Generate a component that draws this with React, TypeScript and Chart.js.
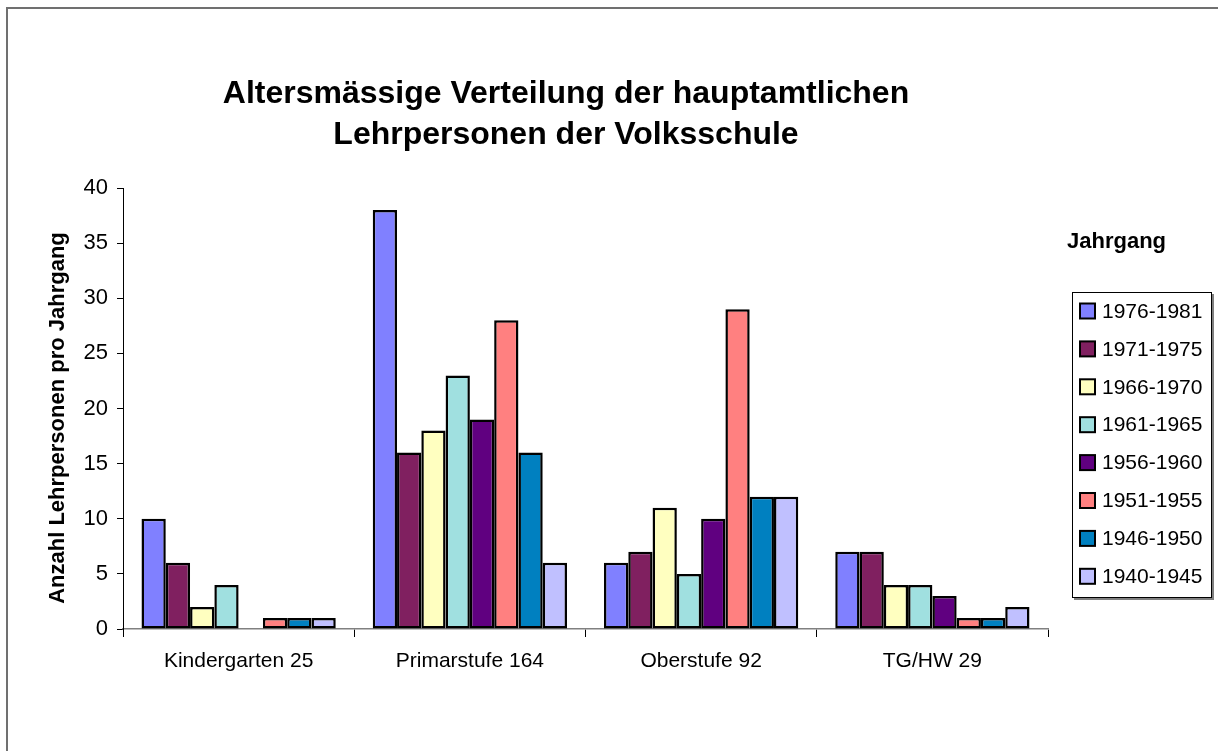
import React, { useEffect, useRef } from "react";
import { Chart, registerables } from "chart.js";

Chart.register(...registerables);

const TITLE_LINES = ["Altersmässige Verteilung der hauptamtlichen", "Lehrpersonen der Volksschule"];
const Y_TITLE = "Anzahl Lehrpersonen pro Jahrgang";
const LEGEND_TITLE = "Jahrgang";
const CATEGORIES = ["Kindergarten 25", "Primarstufe 164", "Oberstufe 92", "TG/HW 29"];
const SERIES = ["1976-1981", "1971-1975", "1966-1970", "1961-1965", "1956-1960", "1951-1955", "1946-1950", "1940-1945"];
const V_1976_1981 = [10, 38, 6, 7];
const V_1971_1975 = [6, 16, 7, 7];
const V_1966_1970 = [2, 18, 11, 4];
const V_1961_1965 = [4, 23, 5, 4];
const V_1956_1960 = [0, 19, 10, 3];
const V_1951_1955 = [1, 28, 29, 1];
const V_1946_1950 = [1, 16, 12, 1];
const V_1940_1945 = [1, 6, 12, 2];
const VALUES = [V_1976_1981, V_1971_1975, V_1966_1970, V_1961_1965, V_1956_1960, V_1951_1955, V_1946_1950, V_1940_1945];
const COLORS = ["#8080FF", "#802060", "#FFFFC0", "#A0E0E0", "#600080", "#FF8080", "#0080C0", "#C0C0FF"];
const Y_MIN = 0;
const Y_MAX = 40;
const Y_STEP = 5;

const FONT = '"Liberation Sans", Arial, Helvetica, sans-serif';

const overlay = {
  id: "overlay",
  afterDraw(chart: any) {
    const ctx = chart.ctx as CanvasRenderingContext2D;
    ctx.save();
    ctx.fillStyle = "#000";
    // Title
    ctx.font = `bold 32px ${FONT}`;
    ctx.textAlign = "center";
    ctx.textBaseline = "alphabetic";
    TITLE_LINES.forEach((l, i) => ctx.fillText(l, 566, 103 + i * 41));
    // Y axis title
    ctx.save();
    ctx.font = `bold 22px ${FONT}`;
    ctx.translate(64, 418);
    ctx.rotate(-Math.PI / 2);
    ctx.fillText(Y_TITLE, 0, 0);
    ctx.restore();
    // Legend title
    ctx.font = `bold 22px ${FONT}`;
    ctx.textAlign = "left";
    ctx.fillText(LEGEND_TITLE, 1067, 248);
    // Legend box with shadow
    const bx = 1072, by = 292, bw = 140, bh = 306;
    ctx.fillStyle = "#808080";
    ctx.fillRect(bx + 2, by + 2, bw, bh);
    ctx.fillStyle = "#fff";
    ctx.fillRect(bx, by, bw, bh);
    ctx.strokeStyle = "#000";
    ctx.lineWidth = 1;
    ctx.strokeRect(bx + 0.5, by + 0.5, bw - 1, bh - 1);
    // Legend items
    ctx.font = `21px ${FONT}`;
    ctx.textBaseline = "middle";
    chart.data.datasets.forEach((ds: any, i: number) => {
      const yc = 311 + i * 37.9;
      ctx.fillStyle = ds.backgroundColor;
      ctx.fillRect(1080, yc - 7.5, 15, 15);
      ctx.strokeStyle = "#000";
      ctx.lineWidth = 2;
      ctx.strokeRect(1080, yc - 7.5, 15, 15);
      ctx.fillStyle = "#000";
      ctx.fillText(ds.label, 1102, yc + 1);
    });
    ctx.restore();
  },
};

export default function App() {
  const ref = useRef<HTMLCanvasElement>(null);
  useEffect(() => {
    if (!ref.current) return;
    const chart = new Chart(ref.current, {
      type: "bar",
      data: {
        labels: CATEGORIES,
        datasets: SERIES.map((name, i) => ({
          label: name,
          data: VALUES[i],
          backgroundColor: COLORS[i],
          borderColor: "#000",
          borderWidth: 2.5,
          borderSkipped: false,
          categoryPercentage: 0.84,
          barPercentage: 1,
        })),
      },
      options: {
        responsive: false,
        maintainAspectRatio: false,
        animation: false,
        layout: { padding: { left: 0, top: 188, right: 170, bottom: 72 } },
        plugins: {
          legend: { display: false },
          title: { display: false },
          tooltip: { enabled: false },
        },
        scales: {
          x: {
            grid: { offset: true, drawOnChartArea: false, tickLength: 8, color: "#000", lineWidth: 1 },
            border: { display: true, color: "#808080", width: 1.5 },
            ticks: { color: "#000", font: { family: FONT, size: 21 }, padding: 12 },
            afterFit: (s: any) => {
              s.height = 50;
            },
          },
          y: {
            min: Y_MIN,
            max: Y_MAX,
            ticks: { stepSize: Y_STEP, color: "#000", font: { family: FONT, size: 22 }, padding: 9 },
            grid: { drawOnChartArea: false, tickLength: 6, color: "#000" },
            border: { display: true, color: "#000", width: 1 },
            afterFit: (s: any) => {
              s.width = 123;
            },
          },
        },
      } as any,
      plugins: [overlay],
    });
    return () => chart.destroy();
  }, []);
  return (
    <div style={{ position: "fixed", left: 0, top: 0, width: 1218, height: 751, background: "#fff", overflow: "hidden" }}>
      <div style={{ position: "absolute", left: 6, top: 7, width: 1400, height: 900, borderLeft: "2px solid #707070", borderTop: "2px solid #707070" }} />
      <canvas ref={ref} width={1218} height={751} style={{ position: "absolute", left: 0, top: 0, display: "block" }} />
    </div>
  );
}
